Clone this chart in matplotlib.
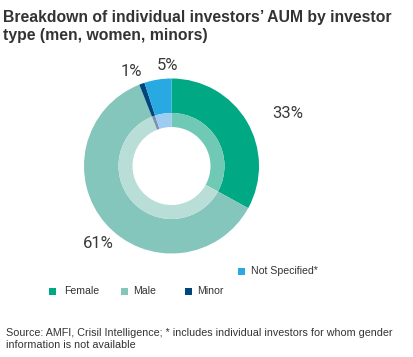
import matplotlib
matplotlib.use("Agg")
import matplotlib.pyplot as plt
from matplotlib.patches import Rectangle

# data
categories = ["Female", "Male", "Minor", "Not Specified*"]
shares = [33, 61, 1, 5]
colors = ["#00a884", "#84c6bb", "#00467c", "#29a9e1"]
inner_colors = ["#70c9b5", "#b9ddd7", "#7d8fb5", "#9dcdf0"]
pct_labels = ["33%", "61%", "1%", "5%"]

W, H = 413, 357
fig = plt.figure(figsize=(W / 100, H / 100), dpi=100)

# donut axes: centre (171.5, 166) px, outer radius 87.5 px
cx, cy, r = 171.5, 166, 87.5
ax = fig.add_axes([(cx - r) / W, (H - cy - r) / H, 2 * r / W, 2 * r / H])
ax.set_aspect("equal")
ax.axis("off")

ax.pie(shares, colors=colors, startangle=90, counterclock=False, radius=1.0,
       wedgeprops=dict(width=(87.5 - 53) / 87.5, linewidth=0))
ax.pie(shares, colors=inner_colors, startangle=90, counterclock=False, radius=53 / 87.5,
       wedgeprops=dict(width=14 / 87.5, linewidth=0))
ax.set_xlim(-1, 1)
ax.set_ylim(-1, 1)

# percentage labels (pixel positions of label centres)
label_pos = [(288, 113), (98, 243), (131, 72), (168, 66)]
for txt, (px, py) in zip(pct_labels, label_pos):
    fig.text(px / W, 1 - py / H, txt, ha="center", va="center",
             fontsize=12, family="Roboto", color="#3a3a3a")

# title
title_font = dict(family="Liberation Sans", fontsize=11.3, fontweight="bold", color="#333333")
fig.text(3 / W, 1 - 22 / H, "Breakdown of individual investors\u2019 AUM by investor",
         ha="left", va="baseline", **title_font)
fig.text(3 / W, 1 - 40 / H, "type (men, women, minors)", ha="left", va="baseline", **title_font)

# legend
leg_items = [(49, 288, 64), (121, 288, 133), (185, 288, 197), (238, 268, 251)]
for (sx, sy, tx), c, name in zip(leg_items, colors, categories):
    fig.patches.append(Rectangle((sx / W, 1 - (sy + 6.5) / H), 6.5 / W, 6.5 / H,
                                 transform=fig.transFigure, color=c, lw=0))
    fig.text(tx / W, 1 - (sy + 3.5) / H, name, ha="left", va="center",
             fontsize=7.6, family="Liberation Sans", color="#333333")

# source note
src_font = dict(family="Liberation Sans", fontsize=7.75, color="#333333", ha="left", va="baseline")
fig.text(6 / W, 1 - 336 / H,
         "Source: AMFI, Crisil Intelligence; * includes individual investors for whom gender",
         **src_font)
fig.text(6 / W, 1 - 348 / H, "information is not available", **src_font)

fig.savefig("out.png", dpi=100, facecolor="white")
